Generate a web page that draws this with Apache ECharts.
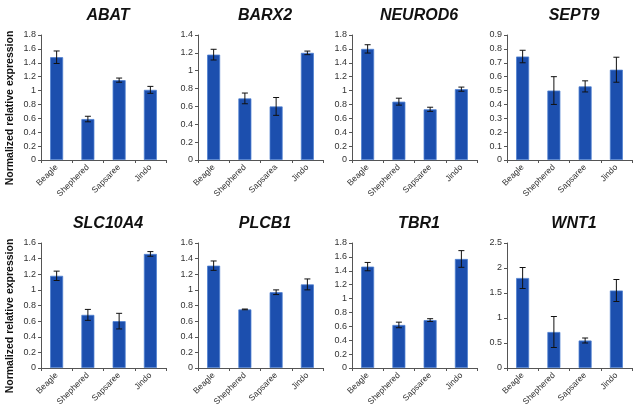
<!DOCTYPE html>
<html lang="en">
<head>
<meta charset="UTF-8">
<title>Expression</title>
<script src="https://cdn.jsdelivr.net/npm/echarts@6/dist/echarts.min.js"></script>
<style>
  html, body { margin: 0; padding: 0; background: #fff; }
  #main { width: 634px; height: 411px; }
</style>
</head>
<body>
<div id="main"></div>
<script>
var genes = ['ABAT', 'BARX2', 'NEUROD6', 'SEPT9', 'SLC10A4', 'PLCB1', 'TBR1', 'WNT1'];
var breeds = ['Beagle', 'Shephered', 'Sapsaree', 'Jindo'];
var breedsBarx2 = ['Beagle', 'Shephered', 'Sapsarea', 'Jindo'];

// mean and error (half-height of error bar) per gene
var abatMean = [1.48, 0.59, 1.15, 1.01],   abatErr = [0.09, 0.04, 0.03, 0.05];
var barx2Mean = [1.18, 0.69, 0.60, 1.20],  barx2Err = [0.06, 0.06, 0.10, 0.02];
var neurod6Mean = [1.60, 0.84, 0.73, 1.02], neurod6Err = [0.06, 0.05, 0.03, 0.03];
var sept9Mean = [0.745, 0.50, 0.53, 0.65], sept9Err = [0.045, 0.10, 0.04, 0.09];
var slc10a4Mean = [1.18, 0.68, 0.60, 1.46], slc10a4Err = [0.06, 0.07, 0.10, 0.03];
var plcb1Mean = [1.31, 0.75, 0.97, 1.07],  plcb1Err = [0.06, 0.005, 0.03, 0.07];
var tbr1Mean = [1.46, 0.62, 0.69, 1.57],   tbr1Err = [0.06, 0.04, 0.02, 0.12];
var wnt1Mean = [1.80, 0.72, 0.55, 1.55],   wnt1Err = [0.21, 0.31, 0.05, 0.22];

// y axis max / interval per gene
var yMax = [1.8, 1.4, 1.8, 0.9, 1.6, 1.6, 1.8, 2.5];
var yStep = [0.2, 0.2, 0.2, 0.1, 0.2, 0.2, 0.2, 0.5];

var means = [abatMean, barx2Mean, neurod6Mean, sept9Mean, slc10a4Mean, plcb1Mean, tbr1Mean, wnt1Mean];
var errs = [abatErr, barx2Err, neurod6Err, sept9Err, slc10a4Err, plcb1Err, tbr1Err, wnt1Err];

var chart = echarts.init(document.getElementById('main'));

var lefts = [41, 198, 352, 507];
var tops = [35, 243];
var grids = [], xAxes = [], yAxes = [], series = [], titles = [];

function errorItem(params, api) {
  var x = api.value(0);
  var m = api.value(1);
  var e = api.value(2);
  var top = api.coord([x, m + e]);
  var bot = api.coord([x, m - e]);
  var style = { stroke: '#111', lineWidth: 1 };
  return {
    type: 'group',
    children: [
      { type: 'line', shape: { x1: top[0], y1: top[1], x2: bot[0], y2: bot[1] }, style: style },
      { type: 'line', shape: { x1: top[0] - 3, y1: top[1], x2: top[0] + 3, y2: top[1] }, style: style },
      { type: 'line', shape: { x1: bot[0] - 3, y1: bot[1], x2: bot[0] + 3, y2: bot[1] }, style: style }
    ]
  };
}

for (var i = 0; i < 8; i++) {
  var col = i % 4, row = Math.floor(i / 4);
  grids.push({ left: lefts[col], top: tops[row], width: 125, height: 125 });
  titles.push({
    text: genes[i],
    left: lefts[col] + 62,
    top: row === 0 ? 3 : 211,
    textAlign: 'center',
    textStyle: { fontFamily: 'Liberation Sans', fontSize: 16, fontWeight: 'bold', fontStyle: 'italic', color: '#111' }
  });
  xAxes.push({
    type: 'category', gridIndex: i,
    data: i === 1 ? breedsBarx2 : breeds,
    axisLine: { lineStyle: { color: '#555' } },
    axisTick: { show: true, alignWithLabel: false, length: 3, lineStyle: { color: '#555' } },
    axisLabel: { rotate: 45, fontSize: 8.5, color: '#333', fontFamily: 'Liberation Sans', margin: 6, interval: 0 }
  });
  yAxes.push({
    type: 'value', gridIndex: i, min: 0, max: yMax[i], interval: yStep[i],
    splitLine: { show: false },
    axisLine: { show: true, lineStyle: { color: '#555' } },
    axisTick: { show: true, inside: false, length: 3, lineStyle: { color: '#555' } },
    axisLabel: { fontSize: 9, color: '#333', fontFamily: 'Liberation Sans', margin: 5 }
  });
  series.push({
    type: 'bar', xAxisIndex: i, yAxisIndex: i,
    data: means[i], barWidth: 13,
    itemStyle: { color: '#1c4fae', borderColor: '#4f80d0', borderWidth: 0.8 }
  });
  var ed = [];
  for (var k = 0; k < 4; k++) ed.push([k, means[i][k], errs[i][k]]);
  series.push({
    type: 'custom', xAxisIndex: i, yAxisIndex: i,
    renderItem: errorItem, data: ed, z: 10,
    encode: { x: 0, y: 1 }
  });
}

chart.setOption({
  animation: false,
  title: titles,
  grid: grids,
  xAxis: xAxes,
  yAxis: yAxes,
  series: series,
  graphic: [
    { type: 'text', x: 10, y: 108, rotation: Math.PI / 2,
      style: { text: 'Normalized relative expression', font: 'bold 10.5px "Liberation Sans"', fill: '#111', textAlign: 'center', textVerticalAlign: 'middle' } },
    { type: 'text', x: 10, y: 316, rotation: Math.PI / 2,
      style: { text: 'Normalized relative expression', font: 'bold 10.5px "Liberation Sans"', fill: '#111', textAlign: 'center', textVerticalAlign: 'middle' } }
  ]
});
</script>
</body>
</html>
